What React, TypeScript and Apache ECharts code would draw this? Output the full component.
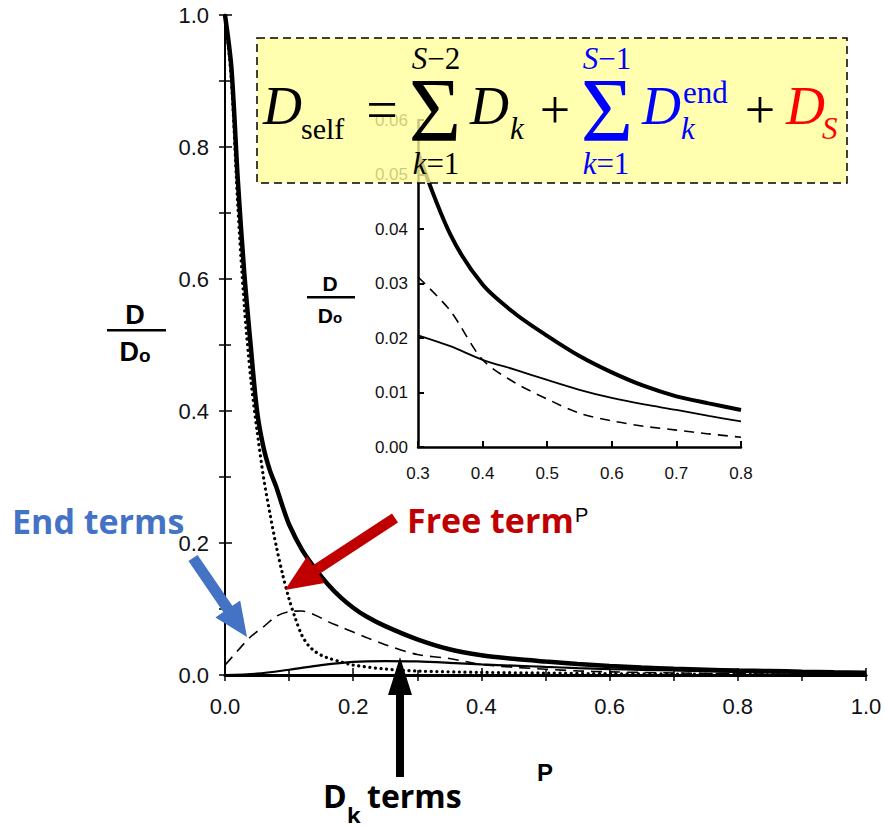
import React, { useEffect, useRef } from "react";
import * as echarts from "echarts";

// ---- Main plot data (P vs D/Do) ----
const totalP = [0, 0.01, 0.02, 0.03, 0.04, 0.05, 0.06, 0.07, 0.08, 0.09, 0.10, 0.12, 0.14, 0.16, 0.18, 0.20, 0.22, 0.25, 0.30, 0.35, 0.40, 0.45, 0.50, 0.55, 0.60, 0.65, 0.70, 0.75, 0.80, 0.85, 0.90, 0.95, 1.00];
const totalD = [1.0, 0.92, 0.75, 0.61, 0.50, 0.40, 0.345, 0.31, 0.285, 0.255, 0.228, 0.19, 0.162, 0.138, 0.118, 0.102, 0.089, 0.074, 0.054, 0.039, 0.030, 0.0245, 0.0204, 0.0167, 0.0137, 0.0112, 0.0093, 0.008, 0.0068, 0.006, 0.005, 0.0042, 0.0035];

const freeP = [0, 0.01, 0.02, 0.03, 0.04, 0.05, 0.06, 0.07, 0.08, 0.09, 0.10, 0.11, 0.12, 0.13, 0.14, 0.15, 0.16, 0.18, 0.20, 0.25, 0.30, 0.40, 0.50, 0.60, 0.70, 0.80, 0.90, 1.00];
const freeD = [1.0, 0.90, 0.71, 0.56, 0.45, 0.37, 0.30, 0.245, 0.195, 0.152, 0.115, 0.085, 0.060, 0.045, 0.036, 0.030, 0.026, 0.020, 0.015, 0.009, 0.006, 0.004, 0.003, 0.002, 0.0015, 0.001, 0.0005, 0];

const endP = [0, 0.02, 0.04, 0.06, 0.08, 0.10, 0.12, 0.14, 0.165, 0.18, 0.20, 0.22, 0.25, 0.30, 0.35, 0.40, 0.45, 0.50, 0.55, 0.60, 0.70, 0.80, 0.90, 1.00];
const endD = [0.015, 0.037, 0.058, 0.073, 0.089, 0.096, 0.097, 0.091, 0.079, 0.073, 0.065, 0.057, 0.046, 0.031, 0.025, 0.016, 0.0118, 0.0088, 0.0062, 0.0048, 0.0031, 0.0018, 0.001, 0.0005];

const dkP = [0, 0.05, 0.10, 0.15, 0.20, 0.25, 0.30, 0.35, 0.40, 0.45, 0.50, 0.55, 0.60, 0.65, 0.70, 0.75, 0.80, 0.90, 1.00];
const dkD = [0, 0.002, 0.008, 0.015, 0.020, 0.021, 0.0205, 0.0185, 0.016, 0.0142, 0.0123, 0.0105, 0.009, 0.0078, 0.0068, 0.0057, 0.0047, 0.003, 0.0015];

// ---- Inset data (0.3 <= P <= 0.8) ----
const insetP = [0.30, 0.35, 0.40, 0.45, 0.50, 0.55, 0.60, 0.65, 0.70, 0.75, 0.80];
const insetTotal = [0.054, 0.039, 0.0298, 0.0245, 0.0204, 0.0167, 0.0137, 0.0112, 0.0093, 0.0080, 0.0068];
const insetEnd = [0.0312, 0.025, 0.016, 0.0118, 0.0088, 0.0062, 0.0048, 0.0038, 0.0031, 0.0024, 0.0018];
const insetDk = [0.0205, 0.0185, 0.016, 0.0142, 0.0123, 0.0105, 0.009, 0.0078, 0.0068, 0.0057, 0.0047];

// ---- Tick labels ----
const mainTicks = [0, 0.2, 0.4, 0.6, 0.8, 1.0];
const insetXTicks = [0.3, 0.4, 0.5, 0.6, 0.7, 0.8];
const insetYTicks = [0, 0.01, 0.02, 0.03, 0.04, 0.05, 0.06];

const pairs = (xs: number[], ys: number[]) => xs.map((x, i) => [x, ys[i]]);

function arrow(tx: number, ty: number, px: number, py: number, sw: number, hw: number, hl: number) {
  const dx = px - tx, dy = py - ty;
  const L = Math.hypot(dx, dy);
  const ux = dx / L, uy = dy / L;
  const nx = -uy, ny = ux;
  const bx = px - hl * ux, by = py - hl * uy;
  return [
    [tx + sw * nx, ty + sw * ny],
    [bx + sw * nx, by + sw * ny],
    [bx + hw * nx, by + hw * ny],
    [px, py],
    [bx - hw * nx, by - hw * ny],
    [bx - sw * nx, by - sw * ny],
    [tx - sw * nx, ty - sw * ny],
  ];
}

const SANS = "Liberation Sans";
const SERIF = "Liberation Serif";
const CAL = "Open Sans";

function txt(x: number, y: number, text: string, o: any = {}) {
  return {
    type: "text",
    x,
    y,
    z: 20,
    style: {
      text,
      fill: o.fill || "#000",
      fontSize: o.fontSize || 20,
      fontFamily: o.fontFamily || SANS,
      fontStyle: o.fontStyle || "normal",
      fontWeight: o.fontWeight || "normal",
      align: o.align || "left",
      verticalAlign: "middle",
      textAlign: o.align || "left",
      textVerticalAlign: "middle",
      rich: o.rich,
    },
  };
}

export default function App() {
  const ref = useRef<HTMLDivElement>(null);
  useEffect(() => {
    if (!ref.current) return;
    const chart = echarts.init(ref.current, null, { renderer: "svg" });
    const axisLbl = (size: number, margin: number, digits: number, ticks: number[]) => ({
      fontSize: size,
      fontFamily: SANS,
      color: "#111",
      margin,
      formatter: (v: number) => {
        const t = ticks.find((k) => Math.abs(k - v) < 1e-9);
        return t === undefined ? "" : t.toFixed(digits);
      },
    });
    const blue = "#0000FF";
    const red = "#FF0000";
    const serifRich = (color: string, size: number) => ({
      i: { fontStyle: "italic", fontFamily: SERIF, fontSize: size, fill: color, color },
      r: { fontStyle: "normal", fontFamily: SERIF, fontSize: size, fill: color, color },
    });
    const line = (xi: number, data: number[][], ls: any) => ({
      type: "line", xAxisIndex: xi, yAxisIndex: xi, data, symbol: "none", smooth: 0.3, lineStyle: { color: "#000", ...ls }, clip: true,
    });

    const option: any = {
      animation: false,
      backgroundColor: "#fff",
      grid: [
        { left: 225, right: 19, top: 15, bottom: 154 },
        { left: 418, right: 144, top: 120, bottom: 382 },
      ],
      xAxis: [
        {
          gridIndex: 0, type: "value", min: 0, max: 1, interval: 0.2, position: "bottom",
          axisLine: { lineStyle: { color: "#000", width: 2.5 } },
          axisTick: { inside: true, length: 7, lineStyle: { color: "#000", width: 1.5 } },
          minorTick: { show: true, splitNumber: 2, length: 5, lineStyle: { color: "#000", width: 1.5 } },
          axisLabel: axisLbl(22, 20, 1, mainTicks),
          splitLine: { show: false },
        },
        {
          gridIndex: 0, type: "value", min: 0, max: 1, interval: 0.1, position: "top",
          axisLine: { lineStyle: { color: "#000", width: 3 } },
          axisTick: { inside: true, length: 6, lineStyle: { color: "#000", width: 1.5 } },
          axisLabel: { show: false },
          splitLine: { show: false },
        },
        {
          gridIndex: 1, type: "value", min: 0.3, max: 0.8, interval: 0.1,
          axisLine: { lineStyle: { color: "#000", width: 2.5 } },
          axisTick: { inside: true, length: 6, lineStyle: { color: "#000", width: 2 } },
          axisLabel: axisLbl(17, 18, 1, insetXTicks),
          splitLine: { show: false },
        },
      ],
      yAxis: [
        {
          gridIndex: 0, type: "value", min: 0, max: 1, interval: 0.2, position: "left",
          axisLine: { lineStyle: { color: "#000", width: 1.5 } },
          axisTick: { inside: true, length: 7, lineStyle: { color: "#000", width: 1.5 } },
          minorTick: { show: true, splitNumber: 2, length: 6, lineStyle: { color: "#000", width: 1.5 } },
          axisLabel: axisLbl(22, 16, 1, mainTicks),
          splitLine: { show: false },
        },
        {
          gridIndex: 0, type: "value", min: 0, max: 1, interval: 0.1, position: "right",
          axisLine: { lineStyle: { color: "#000", width: 2 } },
          axisTick: { inside: true, length: 6, lineStyle: { color: "#000", width: 1.5 } },
          axisLabel: { show: false },
          splitLine: { show: false },
        },
        {
          gridIndex: 1, type: "value", min: 0, max: 0.06, interval: 0.01,
          axisLine: { lineStyle: { color: "#000", width: 2.5 } },
          axisTick: { inside: true, length: 6, lineStyle: { color: "#000", width: 2 } },
          axisLabel: axisLbl(17, 10, 2, insetYTicks),
          splitLine: { show: false },
        },
      ],
      series: [
        { ...line(0, pairs(totalP, totalD), { width: 4.5 }), yAxisIndex: 0 },
        { ...line(0, pairs(freeP, freeD), { width: 3.2, type: [0.1, 5.5], cap: "round" }), yAxisIndex: 0 },
        { ...line(0, pairs(endP, endD), { width: 1.6, type: [11, 7] }), yAxisIndex: 0 },
        { ...line(0, pairs(dkP, dkD), { width: 2.2 }), yAxisIndex: 0 },
        { ...line(2, pairs(insetP, insetTotal), { width: 4 }), yAxisIndex: 2 },
        { ...line(2, pairs(insetP, insetEnd), { width: 1.6, type: [10, 7] }), yAxisIndex: 2 },
        { ...line(2, pairs(insetP, insetDk), { width: 1.8 }), yAxisIndex: 2 },
      ],
      graphic: [
        // main y label D/Do
        txt(135, 315, "D", { fontSize: 27, fontWeight: "bold", align: "center" }),
        { type: "rect", z: 20, shape: { x: 107, y: 329, width: 59, height: 2.5 }, style: { fill: "#000" } },
        txt(135, 352, "{a|D}{b|o}", { align: "center", rich: { a: { fontSize: 27, fontWeight: "bold", fontFamily: SANS }, b: { fontSize: 19, fontWeight: "bold", fontFamily: SANS, padding: [6, 0, 0, 0] } } }),
        // main x label
        txt(545, 772, "P", { fontSize: 24, fontWeight: "bold", align: "center" }),
        // inset y label
        txt(330, 283, "D", { fontSize: 21, fontWeight: "bold", align: "center" }),
        { type: "rect", z: 20, shape: { x: 307, y: 296, width: 48, height: 2.5 }, style: { fill: "#000" } },
        txt(330, 315, "{a|D}{b|o}", { align: "center", rich: { a: { fontSize: 21, fontWeight: "bold", fontFamily: SANS }, b: { fontSize: 15, fontWeight: "bold", fontFamily: SANS, padding: [5, 0, 0, 0] } } }),
        // inset x label
        txt(575, 515, "P", { fontSize: 20 }),
        // formula box
        { type: "rect", z: 18, shape: { x: 257, y: 38, width: 590, height: 145 }, style: { fill: "rgba(255,255,153,0.78)", stroke: "#000", lineWidth: 1.5, lineDash: [8, 5] } },
        txt(263, 106, "D", { fontSize: 54, fontFamily: SERIF, fontStyle: "italic" }),
        txt(301, 128, "self", { fontSize: 30, fontFamily: SERIF }),
        txt(382, 110, "=", { fontSize: 56, fontFamily: SERIF, align: "center" }),
        txt(435, 110, "Σ", { fontSize: 90, fontFamily: SERIF, align: "center" }),
        txt(436, 58, "{i|S}{r|−2}", { align: "center", rich: serifRich("#000", 31) }),
        txt(436, 163, "{i|k}{r|=1}", { align: "center", rich: serifRich("#000", 31) }),
        txt(470, 106, "D", { fontSize: 54, fontFamily: SERIF, fontStyle: "italic" }),
        txt(510, 128, "k", { fontSize: 31, fontFamily: SERIF, fontStyle: "italic" }),
        txt(555, 110, "+", { fontSize: 54, fontFamily: SERIF, align: "center" }),
        txt(607, 110, "Σ", { fontSize: 90, fontFamily: SERIF, align: "center", fill: blue }),
        txt(607, 58, "{i|S}{r|−1}", { align: "center", rich: serifRich(blue, 31) }),
        txt(606, 163, "{i|k}{r|=1}", { align: "center", rich: serifRich(blue, 31) }),
        txt(642, 106, "D", { fontSize: 54, fontFamily: SERIF, fontStyle: "italic", fill: blue }),
        txt(683, 92, "end", { fontSize: 31, fontFamily: SERIF, fill: blue }),
        txt(681, 128, "k", { fontSize: 31, fontFamily: SERIF, fontStyle: "italic", fill: blue }),
        txt(760, 110, "+", { fontSize: 54, fontFamily: SERIF, align: "center" }),
        txt(786, 106, "D", { fontSize: 54, fontFamily: SERIF, fontStyle: "italic", fill: red }),
        txt(822, 128, "S", { fontSize: 31, fontFamily: SERIF, fontStyle: "italic", fill: red }),
        // annotations
        txt(12, 521, "End terms", { fontSize: 34, fontFamily: CAL, fontWeight: "bold", fill: "#4472C4" }),
        txt(407, 520, "Free term", { fontSize: 34, fontFamily: CAL, fontWeight: "bold", fill: "#C00000" }),
        txt(323, 795, "D", { fontSize: 32, fontFamily: CAL, fontWeight: "bold" }),
        txt(347, 814, "k", { fontSize: 22, fontFamily: CAL, fontWeight: "bold" }),
        txt(367, 795, "terms", { fontSize: 32, fontFamily: CAL, fontWeight: "bold" }),
        { type: "polygon", z: 19, shape: { points: arrow(193, 558, 247, 637, 5.5, 15, 34) }, style: { fill: "#4472C4" } },
        { type: "polygon", z: 19, shape: { points: arrow(395, 518, 285, 590, 5.5, 16, 37) }, style: { fill: "#C00000" } },
        { type: "polygon", z: 19, shape: { points: arrow(400, 777, 400, 657, 4, 12, 38) }, style: { fill: "#000" } },
      ],
    };
    chart.setOption(option);
    return () => chart.dispose();
  }, []);
  return <div ref={ref} style={{ position: "absolute", left: 0, top: 0, width: 885, height: 829 }} />;
}
